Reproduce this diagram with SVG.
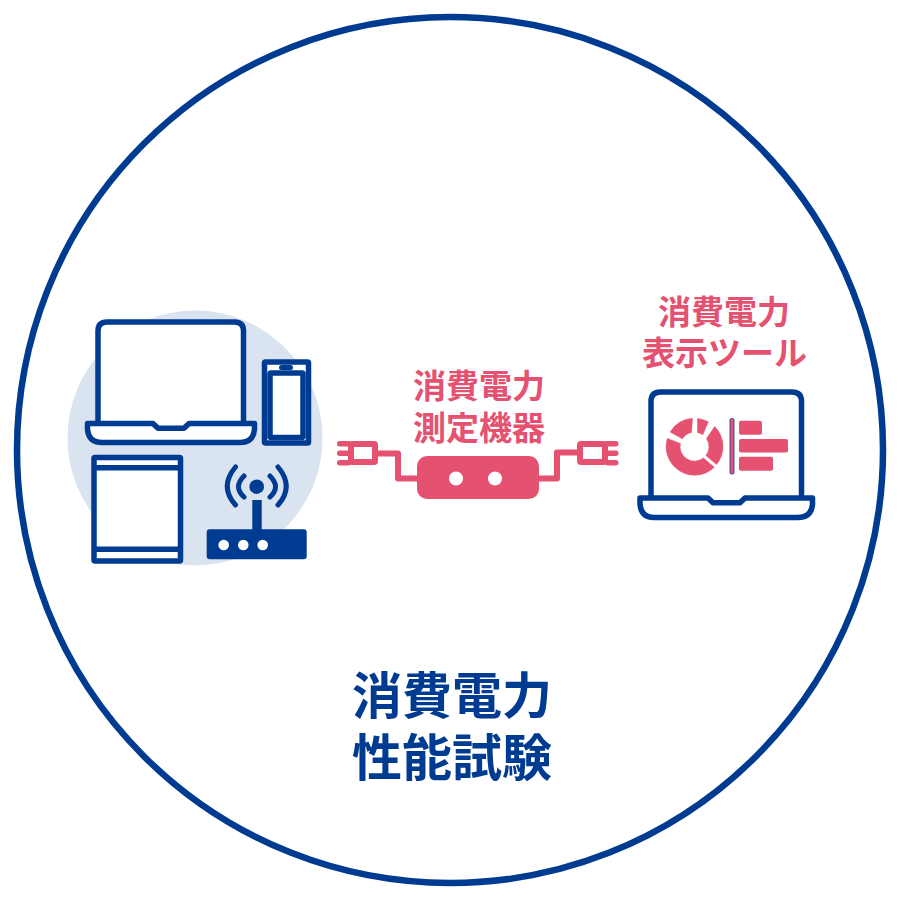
<svg xmlns="http://www.w3.org/2000/svg" width="900" height="900" viewBox="0 0 900 900">
<style>
.w{fill:#fff;stroke:#003b92;stroke-width:5.500;stroke-linejoin:round}
.nf{fill:#003b92}
.p{fill:#e55170}
.pie{fill:#e55170;stroke:#e55170;stroke-width:.5;stroke-linejoin:round}
.ps{fill:none;stroke:#e55170;stroke-width:6;stroke-linejoin:round}
.arc{fill:none;stroke:#003b92;stroke-width:5;stroke-linecap:round}
.t{font-family:"Noto Sans CJK JP","Noto Sans",sans-serif;font-weight:700;text-anchor:middle}
.tp{fill:#e55170;font-size:33px}
.tb{fill:#003b92;font-size:50px}
</style>
<circle id="frame" cx="450" cy="450" r="433" fill="#fff" stroke="#003b92" stroke-width="6.500"/>
<g id="devices">
<circle cx="195" cy="438" r="127.500" fill="#dae3f0"/>
<g id="laptop">
<path class="w" d="M98 424V331Q98 322 107 322H234.500Q243.500 322 243.500 331V424"/>
<rect x="150" y="418" width="42" height="9" fill="#fff"/>
<path class="w" d="M87.500 423.500H153L158 428.300H184L189 423.500H254.500V429Q253.500 442.500 240 442.500H102Q88.500 442.500 87.500 429Z"/>
</g>
<g id="phone">
<rect class="w" x="264.500" y="362" width="44" height="81" rx="1" stroke-width="5"/>
<rect class="w" x="270" y="373" width="33" height="64.500" rx="1" stroke-width="5"/>
<rect class="nf" x="279" y="365" width="14" height="5" rx="2.500"/>
</g>
<g id="tablet">
<rect class="w" x="94" y="457.500" width="86.500" height="103.500" rx="1" stroke-width="5"/>
<rect class="nf" x="94" y="465" width="86.500" height="5.500"/>
<rect class="nf" x="94" y="546.500" width="86.500" height="5.500"/>
</g>
<g id="router">
<rect class="nf" x="206.700" y="529.300" width="100" height="30" rx="3"/>
<circle cx="223.700" cy="545" r="5.300" fill="#fff"/>
<circle cx="243.300" cy="545" r="5.300" fill="#fff"/>
<circle cx="262.700" cy="545" r="5.300" fill="#fff"/>
<rect class="nf" x="252.300" y="500" width="9.400" height="30"/>
<circle class="nf" cx="256.700" cy="486.700" r="7.300"/>
<path class="arc" d="M244 476Q233 487 244 497M270 476Q281 487 270 497M235.500 467Q219 486.500 235.500 505M278 467Q294.500 486.500 278 505"/>
</g>
</g>
<g id="connectors">
<path class="ps" d="M378 453.500H398V478.500H420"/>
<path class="ps" d="M577 452.500H557V478.500H537"/>
</g>
<g id="meter">
<rect class="p" x="417" y="456" width="122" height="43" rx="10"/>
<circle cx="456" cy="478.500" r="7" fill="#fff"/>
<circle cx="495" cy="478.500" r="7" fill="#fff"/>
</g>
<g id="plug-left">
<rect x="351" y="444" width="24" height="18" rx="1" fill="#fff" stroke="#e55170" stroke-width="6"/>
<rect class="p" x="337" y="441" width="14" height="5.500" rx="2.700"/>
<rect class="p" x="337" y="450.500" width="14" height="5.500" rx="2.700"/>
<rect class="p" x="337" y="460" width="14" height="5.500" rx="2.700"/>
</g>
<g id="plug-right">
<rect x="580" y="444" width="25" height="18" rx="1" fill="#fff" stroke="#e55170" stroke-width="6"/>
<rect class="p" x="605" y="441" width="13.500" height="5.500" rx="2.700"/>
<rect class="p" x="605" y="450.500" width="13.500" height="5.500" rx="2.700"/>
<rect class="p" x="605" y="460" width="13.500" height="5.500" rx="2.700"/>
</g>
<g id="display-laptop">
<path class="w" d="M651 499V401.500Q651 392 660.500 392H792Q801.500 392 801.500 401.500V499"/>
<rect x="704" y="492" width="44" height="9" fill="#fff"/>
<path class="w" d="M640 498H708L713 502.800H740L745 498H812.500V504Q811.500 517.500 798 517.500H654Q641 517.500 640 504Z"/>
<path class="pie" d="M670.100 432A28.500 28.500 0 0 1 692.500 418.300L691.500 432.500A14.500 14.500 0 0 0 682.300 438.800Z"/>
<path class="pie" d="M697.500 418.400A28.500 28.500 0 0 1 708.300 421.800L702.800 434.800A14.500 14.500 0 0 0 697.500 432.500Z"/>
<path class="pie" d="M714.700 426.500A28.500 28.500 0 0 1 716.600 464.600L705.900 455.600A14.500 14.500 0 0 0 706.500 438.600Z"/>
<path class="pie" d="M714.300 467.200A28.500 28.500 0 0 1 667.300 438.400L680.400 443.400A14.500 14.500 0 0 0 703.400 458.100Z"/>
<rect x="730" y="418.500" width="4" height="55.500" rx="1.500" fill="#e55170" stroke="#2f4f9c" stroke-width="1"/>
<rect class="p" x="739" y="420.700" width="23" height="14" rx="2"/>
<rect class="p" x="739" y="439" width="49" height="13.500" rx="2"/>
<rect class="p" x="739" y="456.700" width="34" height="14" rx="2"/>
</g>
<g id="labels">
<text class="t tp" x="479" y="398">消費電力</text>
<text class="t tp" x="479" y="440">測定機器</text>
<text class="t tp" x="724" y="324">消費電力</text>
<text class="t tp" x="724.500" y="365">表示ツール</text>
<text class="t tb" x="452" y="714">消費電力</text>
<text class="t tb" x="452" y="776">性能試験</text>
</g>
</svg>
